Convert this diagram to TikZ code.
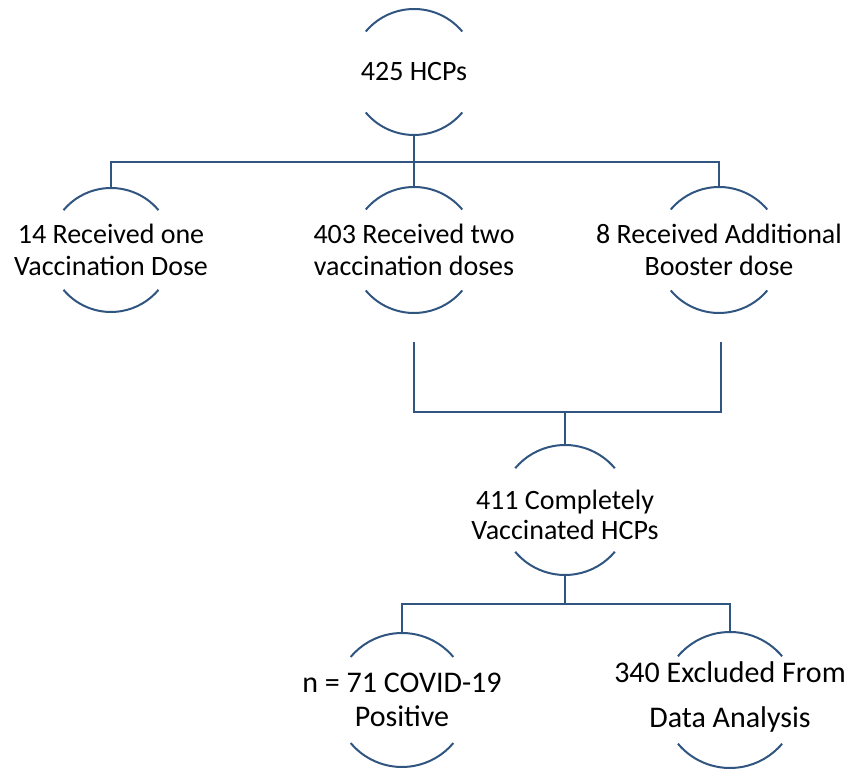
\documentclass[tikz,border=0pt]{standalone}
\usepackage{fontspec}
\setmainfont{Carlito}
\definecolor{hcpblue}{RGB}{47,85,128}

\begin{document}
\begin{tikzpicture}
  [x=0.75pt, y=0.75pt, line width=1.5pt,
   hcp/.style={circle, inner sep=0pt, outer sep=0pt, minimum size=#1*1.5pt},
   txt/.style={align=center, inner sep=0pt, font=\fontsize{21}{24}\selectfont},
   big/.style={txt, font=\fontsize{22.5}{26}\selectfont},
   link/.style={draw=hcpblue}]
  \useasboundingbox (0,0) rectangle (855,770);
  \node (top)   [hcp=63, label={[txt, name=toptxt]center:425 HCPs}] at (414,698) {};
  \node (one)   [hcp=62, label={[txt, name=onetxt]center:14 Received one\\Vaccination Dose}] at (111,520) {};
  \node (two)   [hcp=63, label={[txt, name=twotxt]center:403 Received two\\vaccination doses}] at (414,520) {};
  \node (boost) [hcp=63, label={[txt, name=boosttxt]center:8 Received Additional\\Booster dose}] at (719,520) {};
  \node (full)  [hcp=65, label={[txt, name=fulltxt, yshift=-4pt, font=\fontsize{21}{22.5}\selectfont]center:411 Completely\\Vaccinated HCPs}] at (565,260) {};
  \node (pos)   [hcp=67, label={[big, name=postxt]center:n = 71 COVID-19\\Positive}] at (402,70) {};
  \node (excl)  [hcp=68, label={[big, name=excltxt, yshift=2pt, font=\fontsize{22.5}{34}\selectfont]center:340 Excluded From\\Data Analysis}] at (730,70) {};
  \coordinate (twoleg) at (414,428);
  \coordinate (boostleg) at (721,428);

  \foreach \n/\r in {top/63, one/62, two/63, boost/63, full/65, pos/67, excl/68}{
    \draw[link] (\n.40) arc[start angle=40, end angle=140, radius=\r];
    \draw[link] (\n.220) arc[start angle=220, end angle=320, radius=\r];
  }

  \draw[link] (top.south) -- ++(0,-27) -| (one.north);
  \draw[link] (top.south) -- ++(0,-27) -| (boost.north);
  \draw[link] (top.south) -- (two.north);
  \draw[link] (twoleg) -- ++(0,-70) -| (boostleg);
  \draw[link] (full.north) -- ++(0,33);
  \draw[link] (full.south) -- ++(0,-29) -| (pos.north);
  \draw[link] (full.south) -- ++(0,-29) -| (excl.north);
\end{tikzpicture}
\end{document}
